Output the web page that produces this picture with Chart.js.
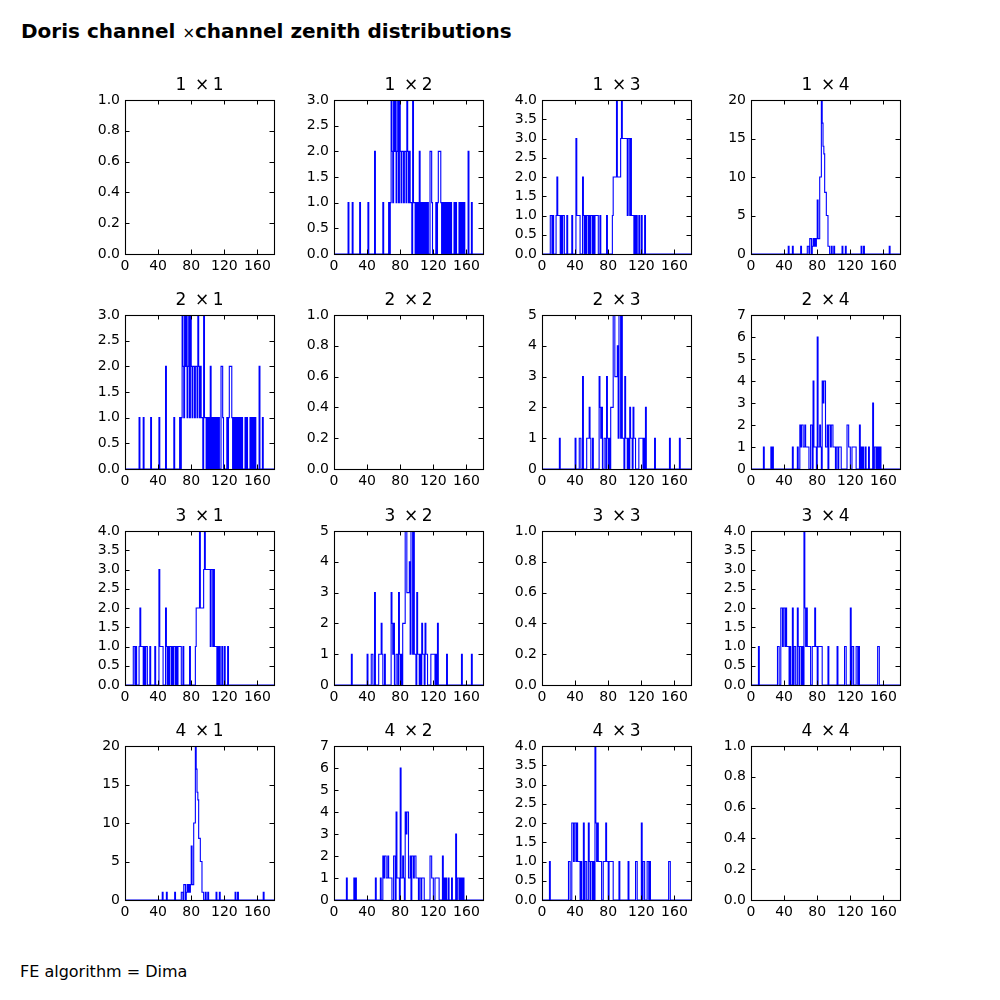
<!DOCTYPE html>
<html><head><meta charset="utf-8">
<script src="https://cdn.jsdelivr.net/npm/chart.js@4"></script>
<style>
html,body{margin:0;padding:0;background:#fff;}
#fig{position:relative;width:1000px;height:1000px;overflow:hidden;font-family:"DejaVu Sans",sans-serif;color:#000;}
#fig canvas{position:absolute;}
#suptitle{position:absolute;left:21px;top:19px;font-size:20px;font-weight:bold;white-space:nowrap;line-height:normal;}
#suptitle .x{font-weight:normal;font-size:15px;}
#footer{position:absolute;left:20px;top:962px;font-size:16px;white-space:nowrap;line-height:normal;}
</style></head>
<body>
<div id="fig">
<div id="suptitle">Doris channel <span class="x">×</span>channel zenith distributions</div>
<div id="footer">FE algorithm = Dima</div>
</div>
<script>
// ---- data ----
const channels = ['1', '2', '3', '4'];
const xTickValues = [0, 40, 80, 120, 160];
const histRange = [0, 180];           // 1-degree bins
// non-empty bins: [bin start (deg), count]
const zenith_1x2 = [[17,1],[22,1],[31,1],[41,1],[49,2],[59,1],[66,1],[68,1],[69,3],[70,2],[71,1],[72,3],[73,2],[74,3],[75,1],[76,2],[77,3],[78,1],[79,3],[80,2],[81,1],[82,2],[83,2],[84,1],[85,2],[86,2],[87,1],[88,3],[89,2],[90,1],[91,2],[92,1],[93,1],[95,3],[96,1],[97,1],[99,1],[101,1],[103,2],[105,1],[107,1],[109,1],[111,1],[113,1],[116,2],[117,2],[118,1],[123,1],[125,1],[126,2],[127,2],[128,2],[129,1],[131,1],[133,1],[135,1],[137,1],[139,1],[141,1],[145,1],[147,1],[151,1],[153,1],[155,1],[157,1],[162,2],[166,1]];
const zenith_1x3 = [[10,1],[11,1],[13,1],[17,1],[18,2],[19,1],[20,1],[21,1],[23,1],[25,1],[26,1],[30,1],[36,1],[41,3],[42,1],[43,1],[44,1],[45,1],[49,2],[50,1],[52,1],[54,1],[55,1],[57,1],[59,1],[60,1],[62,1],[64,1],[65,1],[66,1],[67,1],[70,1],[78,1],[85,1],[86,2],[87,2],[88,2],[89,2],[90,4],[91,2],[92,2],[93,2],[94,2],[95,3],[96,4],[97,3],[98,3],[99,3],[100,3],[101,3],[102,3],[103,1],[104,3],[105,3],[106,1],[107,3],[108,1],[109,1],[110,1],[112,1],[114,1],[117,1],[120,1],[124,1]];
const zenith_1x4 = [[45,1],[50,1],[60,1],[68,1],[69,1],[71,2],[72,2],[74,1],[75,2],[76,1],[77,2],[78,1],[79,2],[80,7],[81,2],[82,2],[83,10],[84,10],[85,20],[86,17],[87,14],[88,13],[89,8],[90,8],[91,5],[92,5],[93,1],[94,1],[97,1],[100,1],[110,1],[114,1],[133,1],[136,1],[167,1]];
const zenith_2x3 = [[21,1],[40,1],[45,1],[46,1],[49,3],[54,1],[55,1],[56,1],[57,2],[58,1],[61,1],[69,3],[70,2],[71,1],[72,2],[75,1],[76,1],[78,3],[79,1],[81,1],[83,2],[84,2],[85,2],[86,5],[87,5],[88,3],[89,3],[90,3],[91,4],[92,1],[93,5],[94,5],[95,1],[96,5],[97,1],[98,1],[100,3],[101,1],[102,1],[104,1],[106,2],[107,1],[108,1],[110,2],[111,1],[112,1],[117,1],[118,1],[119,1],[120,1],[121,1],[123,1],[125,2],[136,1],[154,1],[166,1]];
const zenith_2x4 = [[15,1],[24,1],[26,1],[50,1],[56,1],[59,2],[60,1],[61,2],[62,2],[63,1],[64,1],[65,2],[66,1],[67,1],[68,1],[69,1],[72,2],[73,2],[75,4],[76,1],[77,1],[78,1],[80,6],[81,1],[82,1],[83,2],[84,1],[86,4],[87,3],[88,4],[89,4],[90,1],[91,1],[92,2],[94,2],[95,2],[96,1],[97,2],[98,2],[99,1],[100,1],[101,1],[103,1],[104,1],[106,1],[107,1],[108,1],[116,2],[117,2],[118,1],[119,1],[122,1],[123,1],[124,1],[125,1],[126,1],[131,2],[133,1],[135,1],[138,1],[142,1],[147,3],[149,1],[150,1],[152,1],[154,1],[156,1]];
const zenith_3x4 = [[9,1],[32,1],[33,1],[36,2],[37,2],[38,1],[39,2],[40,2],[41,1],[42,2],[43,1],[44,1],[45,1],[47,1],[50,2],[52,1],[53,1],[56,2],[57,1],[59,1],[60,1],[62,1],[64,4],[65,2],[66,1],[67,2],[68,1],[69,1],[70,1],[71,1],[74,1],[75,1],[76,1],[77,2],[78,1],[79,1],[81,1],[82,1],[83,1],[84,1],[85,1],[93,1],[104,1],[113,1],[114,1],[120,2],[122,1],[123,1],[127,1],[128,1],[130,1],[153,1],[154,1]];
// which histogram each panel (row i, column j) shows; diagonal panels are empty
const panelHist = [
  [null, zenith_1x2, zenith_1x3, zenith_1x4],
  [zenith_1x2, null, zenith_2x3, zenith_2x4],
  [zenith_1x3, zenith_2x3, null, zenith_3x4],
  [zenith_1x4, zenith_2x4, zenith_3x4, null]
];
const yMax  = [[1,3,4,20],[3,1,5,7],[4,5,1,4],[20,7,4,1]];
const yStep = [[0.2,0.5,0.5,5],[0.5,0.2,1,1],[0.5,1,0.2,0.5],[5,1,0.5,0.2]];

// ---- layout ----
const colLeft = [125, 334, 542, 751], rowTop = [100, 315, 531, 746];
const AX_W = 149, AX_H = 154;
const PAD_L = 50, PAD_R = 50, PAD_T = 30, PAD_B = 22;
const FONT = 'DejaVu Sans';
const TITLE_SIZE = 17;

function stepPoints(pairs) {
  const n = histRange[1] - histRange[0];
  const h = new Array(n).fill(0);
  pairs.forEach(([b, c]) => { h[b - histRange[0]] = c; });
  const pts = [{x: histRange[0], y: 0}];
  h.forEach((v, i) => pts.push({x: histRange[0] + i, y: v}));
  pts.push({x: histRange[1], y: 0});
  return pts;
}

const frameTicks = {
  id: 'frameTicks',
  afterDatasetsDraw(chart) {
    const {ctx, chartArea: a, scales: {x, y}} = chart;
    const L = 4.5;
    ctx.save();
    ctx.strokeStyle = '#000';
    ctx.lineWidth = 1;
    ctx.beginPath();
    x.ticks.forEach(t => {
      const p = Math.round(x.getPixelForValue(t.value)) + 0.5;
      ctx.moveTo(p, a.bottom); ctx.lineTo(p, a.bottom - L);
      ctx.moveTo(p, a.top); ctx.lineTo(p, a.top + L);
    });
    y.ticks.forEach(t => {
      const p = Math.round(y.getPixelForValue(t.value)) + 0.5;
      ctx.moveTo(a.left, p); ctx.lineTo(a.left + L, p);
      ctx.moveTo(a.right, p); ctx.lineTo(a.right - L, p);
    });
    ctx.stroke();
    ctx.lineWidth = 1.1;
    ctx.strokeRect(a.left + 0.5, a.top + 0.5, a.right - a.left, a.bottom - a.top);
    ctx.restore();
  }
};

const fig = document.getElementById('fig');
for (let r = 0; r < 4; r++) {
  for (let c = 0; c < 4; c++) {
    const cv = document.createElement('canvas');
    const W = PAD_L + AX_W + PAD_R, H = PAD_T + AX_H + PAD_B;
    cv.width = W; cv.height = H;
    cv.style.width = W + 'px'; cv.style.height = H + 'px';
    cv.style.left = (colLeft[c] - PAD_L) + 'px';
    cv.style.top = (rowTop[r] - PAD_T) + 'px';
    fig.appendChild(cv);
    const hist = panelHist[r][c];
    const datasets = hist ? [{
      data: stepPoints(hist),
      borderColor: '#0000ff',
      borderWidth: 1.1,
      pointRadius: 0,
      stepped: 'before',
      fill: false
    }] : [];
    const ym = yMax[r][c], ys = yStep[r][c];
    const yTicks = [];
    for (let k = 0; k * ys <= ym + 1e-9; k++) yTicks.push(+(k * ys).toFixed(6));
    new Chart(cv, {
      type: 'line',
      data: {datasets},
      options: {
        responsive: false,
        animation: false,
        devicePixelRatio: 1,
        layout: {padding: 0},
        plugins: {
          legend: {display: false},
          tooltip: {enabled: false},
          title: {
            display: true,
            text: channels[r] + ' \u2009\u00d7\u2009' + channels[c],
            color: '#000',
            font: {family: FONT, size: TITLE_SIZE, weight: 'normal', lineHeight: 1.2},
            padding: {top: 5, bottom: PAD_T - 5 - TITLE_SIZE * 1.2}
          }
        },
        scales: {
          x: {
            type: 'linear', min: histRange[0], max: histRange[1],
            afterBuildTicks: s => { s.ticks = xTickValues.map(v => ({value: v})); },
            afterFit: s => { s.height = PAD_B; },
            grid: {display: false, drawTicks: false},
            border: {display: false},
            ticks: {padding: 4, color: '#000', font: {family: FONT, size: 14}, maxRotation: 0, autoSkip: false,
              callback: v => String(v)}
          },
          y: {
            type: 'linear', min: 0, max: ym,
            afterBuildTicks: s => { s.ticks = yTicks.map(v => ({value: v})); },
            afterFit: s => { s.width = PAD_L; },
            grid: {display: false, drawTicks: false},
            border: {display: false},
            ticks: {padding: 5, color: '#000', font: {family: FONT, size: 14}, autoSkip: false,
              callback: v => ys < 1 ? Number(v).toFixed(1) : String(Math.round(v))}
          },
          yRight: {
            type: 'linear', position: 'right', min: 0, max: ym,
            afterFit: s => { s.width = PAD_R; },
            grid: {display: false, drawTicks: false},
            border: {display: false},
            ticks: {display: false}
          }
        }
      },
      plugins: [frameTicks]
    });
  }
}
</script>
</body></html>
